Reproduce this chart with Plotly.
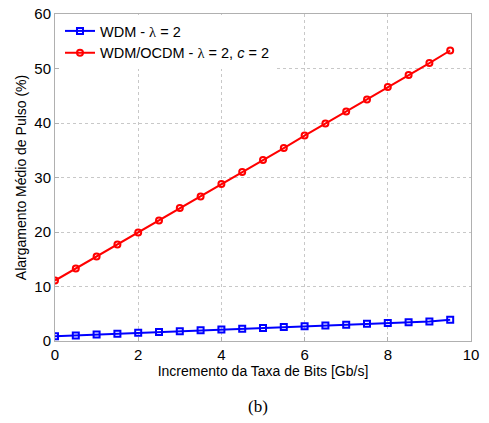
import plotly.graph_objects as go

x_vals = [0, 0.5, 1, 1.5, 2, 2.5, 3, 3.5, 4, 4.5, 5, 5.5, 6, 6.5, 7, 7.5, 8, 8.5, 9, 9.5]
wdm = [0.85, 1.0, 1.2, 1.35, 1.5, 1.65, 1.8, 1.95, 2.1, 2.25, 2.4, 2.55, 2.7, 2.85, 3.0, 3.15, 3.3, 3.45, 3.6, 3.9]
ocdm = [11.1, 13.3, 15.5, 17.7, 19.9, 22.1, 24.4, 26.5, 28.8, 31.0, 33.2, 35.4, 37.7, 39.9, 42.1, 44.3, 46.6, 48.8, 51.0, 53.3]

lam = '<span style="font-family:Liberation Serif, Times New Roman">λ</span>'

fig = go.Figure()
fig.add_trace(go.Scatter(x=x_vals, y=wdm, mode="lines+markers",
                         name=f"WDM - {lam} = 2",
                         line=dict(color="#0000ff", width=2),
                         marker=dict(symbol="square-open", size=6, color="#0000ff", line=dict(width=2))))
fig.add_trace(go.Scatter(x=x_vals, y=ocdm, mode="lines+markers",
                         name=f"WDM/OCDM - {lam} = 2, <i>c</i> = 2",
                         line=dict(color="#ff0000", width=2),
                         marker=dict(symbol="circle-open", size=6, color="#ff0000", line=dict(width=2))))

axis_common = dict(showline=True, linecolor="#b0b0b0", linewidth=1, mirror=True,
                   showgrid=True, gridcolor="#c8c8c8", griddash="dot", gridwidth=1,
                   zeroline=False, ticks="inside", ticklen=4, tickcolor="#b0b0b0",
                   ticklabeloverflow="allow",
                   tickfont=dict(family="Liberation Sans, Arial", size=15, color="#000"))
fig.update_xaxes(range=[0, 10], dtick=2, title=dict(text="Incremento da Taxa de Bits [Gb/s]",
                 font=dict(family="Liberation Sans, Arial", size=14, color="#000"), standoff=0), **axis_common)
fig.update_yaxes(range=[0, 60], dtick=10, title=dict(text="Alargamento Médio de Pulso (%)",
                 font=dict(family="Liberation Sans, Arial", size=14, color="#000"), standoff=4), **axis_common)

fig.add_annotation(text="(b)", xref="paper", yref="paper", x=0.487, y=-0.235, showarrow=False,
                   font=dict(family="Liberation Serif, Times New Roman", size=17, color="#000"))

fig.update_layout(width=489, height=423, margin=dict(l=55, r=18, t=14, b=82, autoexpand=False),
                  paper_bgcolor="white", plot_bgcolor="white",
                  legend=dict(x=0.012, y=0.997, xanchor="left", yanchor="top", bgcolor="rgba(255,255,255,1)",
                              font=dict(family="Liberation Sans, Arial", size=14.5, color="#000"),
                              tracegroupgap=0, itemwidth=30))
fig.write_html("out.html", config={"displayModeBar": False},
               post_script="document.body.style.margin='0';document.body.style.overflow='hidden';")
